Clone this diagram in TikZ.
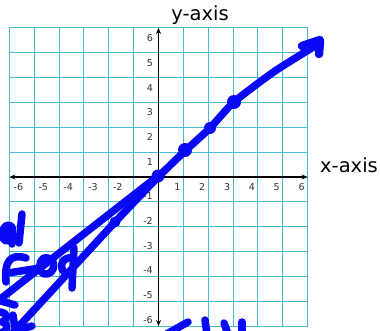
\documentclass[tikz,border=0pt]{standalone}
\usepackage{fontspec}
\setmainfont{DejaVu Sans}
\usetikzlibrary{arrows.meta}
\definecolor{gridc}{RGB}{72,186,216}
\definecolor{penblue}{RGB}{8,8,245}
\tikzset{
  gridline/.style={draw=gridc,line width=1pt},
  axisline/.style={draw=black,line width=1.4pt,{Stealth[length=6pt,width=5pt]}-{Stealth[length=6pt,width=5pt]}},
  ticklab/.style={inner sep=0pt,font=\fontsize{9.5}{11}\selectfont,text=black!80},
  axlab/.style={inner sep=0pt,font=\fontsize{19.5}{22}\selectfont},
  pen/.style={draw=penblue,line width=7.5pt,line cap=round,line join=round},
  pendot/.style={fill=penblue}
}
\begin{document}
\begin{tikzpicture}[x=1pt,y=-1pt]
\clip (0,0) rectangle (380,330);
\fill[white] (0,0) rectangle (380,330);
\def\u{24.85}
\def\ox{158.5}
\def\oy{177}
% grid
\foreach \i in {-6,...,6}{
  \draw[gridline] ({\ox+\i*\u},{\oy-6*\u}) -- ({\ox+\i*\u},{\oy+6*\u});
  \draw[gridline] ({\ox-6*\u},{\oy+\i*\u}) -- ({\ox+6*\u},{\oy+\i*\u});
}
% axes
\coordinate (xl) at ({\ox-6*\u},\oy);
\coordinate (xr) at ({\ox+6*\u},\oy);
\coordinate (yt) at (\ox,{\oy-6*\u});
\coordinate (yb) at (\ox,{\oy+6*\u});
\draw[axisline] (xl) -- (xr);
\draw[axisline] (yb) -- (yt);
% tick labels
\foreach \i in {-6,...,-1}{
  \node[ticklab] (xn\i) at ({\ox+\i*\u+9},187) {\i};
  \node[ticklab] (yn\i) at (148,{\oy-\i*\u-6}) {\i};
}
\foreach \i in {1,...,6}{
  \node[ticklab] (xp\i) at ({\ox+\i*\u-6},187) {\i};
  \node[ticklab] (yp\i) at (150,{\oy-\i*\u+10}) {\i};
}
% axis labels
\node[axlab] (ylab) at (200,15) {y-axis};
\node[axlab] (xlab) at (349,165) {x-axis};
% hand-drawn blue strokes
\draw[pen] plot[smooth,tension=0.4] coordinates {(158,177) (185,151) (210,128) (234,102) (275,71) (320,43)};
\draw[pen,line width=8.5pt] (302,46) -- (320,40) -- (319,54);
\fill[pendot] (158,176) circle (6.5);
\fill[pendot] (185,150) circle (7);
\fill[pendot] (210,128) circle (6);
\fill[pendot] (234,102) circle (7);
\fill[pendot] (115,222) circle (5.5);
\draw[pen] (158,176) -- (-6,304);
\draw[pen] (158,177) -- (115,222) -- (10,336);
% arrow barbs bottom-left
\draw[pen] (1,301) -- (15,305);
\draw[pen] (13,315) -- (15,329);
\draw[pen] (18,330) -- (32,326);
% handwriting left
\draw[pen] (22,214) -- (19,243);
\draw[pen] (11,226) .. controls (3,221) and (-2,240) .. (7,241) -- (12,227) -- (12,244);
\draw[pen] (26,258) .. controls (10,253) and (4,262) .. (6,282);
\draw[pen] (8,273) -- (40,268);
\draw[pen] (44,258) .. controls (58,256) and (56,276) .. (44,274) .. controls (38,272) and (38,262) .. (44,258);
\draw[pen] (74,248) -- (72,288);
\draw[pen] (72,258) .. controls (58,256) and (58,276) .. (72,274);
\draw[pen] (0,312) .. controls (8,313) and (9,319) .. (2,322) .. controls (9,324) and (9,331) .. (0,333);
% bottom scribbles
\draw[pen] (163,336) -- (188,322);
\draw[pen] (205,320) -- (207,334);
\draw[pen] (224,323) -- (228,334);
\draw[pen] (242,322) -- (242,334);
\end{tikzpicture}
\end{document}
